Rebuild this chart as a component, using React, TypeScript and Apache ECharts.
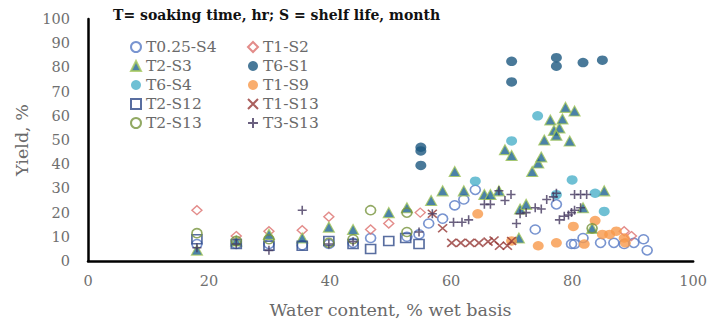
import React, { useEffect, useRef } from "react";
import * as echarts from "echarts";

const titleText = "T= soaking time, hr; S = shelf life, month";
const xAxisName = "Water content, % wet basis";
const yAxisName = "Yield, %";

const seriesNames = [
  "T0.25-S4", "T1-S2", "T2-S3", "T6-S1", "T6-S4",
  "T1-S9", "T2-S12", "T1-S13", "T2-S13", "T3-S13",
];
const legendCol1 = ["T0.25-S4", "T2-S3", "T6-S4", "T2-S12", "T2-S13"];
const legendCol2 = ["T1-S2", "T6-S1", "T1-S9", "T1-S13", "T3-S13"];

const t025s4 = [
  [18, 7], [24.5, 7], [29.9, 7], [35.4, 6.5], [39.8, 7], [43.8, 7.5], [46.7, 9.5],
  [52.7, 10], [54.7, 11], [56.3, 15.5], [58.6, 17.5], [60.6, 23], [62.1, 25.4],
  [64, 29.4], [73.9, 13], [77.4, 23.4], [79.9, 7], [80.4, 7], [81.8, 9.5],
  [84.7, 7.5], [86.9, 7.5], [88.6, 7], [90.2, 7.5], [91.8, 9], [92.4, 4.4],
];
const t1s2 = [
  [18, 21], [24.5, 10.3], [29.9, 12.3], [35.4, 12.7], [39.8, 18.3], [46.7, 13],
  [49.7, 15.5], [54.9, 20], [88.6, 12.3], [89.8, 10.3],
];
const t2s3 = [
  [18, 4.5], [24.5, 8.3], [29.9, 11], [35.4, 9.5], [39.8, 14], [43.8, 13],
  [49.7, 20], [52.7, 22], [56.7, 25], [58.6, 29], [60.6, 37], [62.1, 29],
  [65.5, 27.5], [66.5, 27.5], [67.9, 29], [68.9, 46], [70, 43.6], [71.2, 9.5],
  [71.4, 21.5], [72.4, 23.4], [73.4, 37], [74.4, 40.5], [74.9, 43], [75.4, 50],
  [76.4, 58.3], [77, 54], [77.9, 55], [77.4, 52], [78.4, 58.7], [78.9, 63.5],
  [79.6, 49.6], [80.4, 62], [81.8, 22], [83.3, 13.5], [85.3, 29],
];
const t6s1 = [
  [55, 47], [55, 45.5], [55, 39.5], [70, 82.5], [70, 74], [77.4, 84],
  [77.4, 80.5], [81.8, 82], [85, 83],
];
const t6s4 = [
  [64, 33], [70, 49.6], [74.3, 60], [77.4, 27.4], [80, 33.5], [83.8, 28], [85.3, 20.5],
];
const t1s9 = [
  [64.4, 19.5], [70, 8.3], [74.4, 6.3], [77.4, 7.5], [80.2, 14.3], [82, 7],
  [83.8, 16.7], [85, 11], [86.2, 11], [87.3, 12.3], [88.6, 9.5], [88.8, 7.5],
];
const t2s12 = [
  [18, 9], [24.5, 7], [29.9, 6.3], [35.4, 6.3], [39.8, 8.3], [43.8, 7],
  [46.7, 5], [49.7, 8.3], [52.5, 9.5], [54.7, 7],
];
const t1s13 = [
  [56.9, 19.5], [58.6, 13.5], [60.1, 7.5], [61.6, 7.5], [63.1, 7.5], [64.6, 7.5],
  [66.1, 8], [67.1, 8.5], [68, 6.3], [69.3, 6.3], [70, 8.3],
];
const t2s13 = [
  [18, 11.5], [24.5, 8.3], [29.9, 9], [39.8, 7.5], [43.8, 9], [46.7, 21],
  [52.7, 20], [52.7, 12], [83.3, 13.5],
];
const t3s13 = [
  [18, 5.5], [24.5, 7], [29.9, 4.4], [35.4, 21], [39.8, 7], [43.8, 8], [54.7, 12],
  [56.9, 19.5], [60.4, 16], [61.8, 16], [62.9, 17], [65.5, 23.4], [66.5, 23.4],
  [67.9, 29], [68.9, 25], [69.9, 27.5], [70.8, 15.5], [71.4, 19.5], [72.4, 20],
  [73.9, 22], [74.9, 21.5], [75.8, 25.4], [76.9, 26.5], [77.4, 28], [77.9, 17],
  [78.7, 18.5], [79.4, 19], [79.9, 20], [80.4, 27.5], [81.4, 27.5], [82.4, 27.5],
  [80.4, 21], [81.4, 22],
];

const seriesData = [t025s4, t1s2, t2s3, t6s1, t6s4, t1s9, t2s12, t1s13, t2s13, t3s13];

const XPATH = "path://M0,0L10,10M10,0L0,10";
const PLUSPATH = "path://M5,0L5,10M0,5L10,5";

const styles: any[] = [
  { symbol: "circle", size: [10, 9], itemStyle: { color: "rgba(255,255,255,0)", borderColor: "#5679c4", borderWidth: 1.6 } },
  { symbol: "diamond", size: [10, 9], itemStyle: { color: "rgba(255,255,255,0)", borderColor: "#dc6f6d", borderWidth: 1.4 } },
  { symbol: "triangle", size: [11, 10], itemStyle: { color: "#1e6391", borderColor: "#a5c85c", borderWidth: 1.2 } },
  { symbol: "circle", size: [11, 9.5], itemStyle: { color: "#1b5880" } },
  { symbol: "circle", size: [11, 9.5], itemStyle: { color: "#4bb0c9" } },
  { symbol: "circle", size: [11, 9.5], itemStyle: { color: "#f7984a" } },
  { symbol: "rect", size: [10, 9], itemStyle: { color: "rgba(255,255,255,0)", borderColor: "#2f4a88", borderWidth: 1.6 } },
  { symbol: XPATH, size: [9, 8], itemStyle: { color: "rgba(255,255,255,0)", borderColor: "#953735", borderWidth: 1.6 } },
  { symbol: "circle", size: [10, 9], itemStyle: { color: "rgba(255,255,255,0)", borderColor: "#77933c", borderWidth: 1.6 } },
  { symbol: PLUSPATH, size: [9, 9], itemStyle: { color: "rgba(255,255,255,0)", borderColor: "#45385f", borderWidth: 1.6 } },
];

const serifFont = "DejaVu Serif";

export default function App() {
  const ref = useRef<HTMLDivElement>(null);
  useEffect(() => {
    if (!ref.current) return;
    const chart = echarts.init(ref.current, null, { renderer: "svg" });
    const legendBase = {
      orient: "vertical",
      top: 39,
      itemWidth: 10,
      itemHeight: 10,
      itemGap: 3,
      padding: 0,
      selectedMode: false,
      textStyle: { fontFamily: serifFont, fontSize: 15.5, color: "#6a6a6a", lineHeight: 16, padding: [0, 0, 0, 0] },
    };
    chart.setOption({
      animation: false,
      backgroundColor: "#ffffff",
      title: {
        text: titleText,
        left: 113,
        top: 8,
        padding: 0,
        textStyle: { fontFamily: serifFont, fontSize: 14, fontWeight: "bold", color: "#111111" },
      },
      legend: [
        { ...legendBase, left: 130, data: legendCol1 },
        { ...legendBase, left: 247, data: legendCol2 },
      ],
      grid: { left: 88, right: 15, top: 19, bottom: 53 },
      xAxis: {
        type: "value",
        min: 0,
        max: 100,
        interval: 20,
        name: xAxisName,
        nameLocation: "middle",
        nameGap: 40,
        nameTextStyle: { fontFamily: serifFont, fontSize: 17.5, color: "#6a6a6a" },
        axisLine: { lineStyle: { color: "#000000", width: 2.5 } },
        axisTick: { show: false },
        splitLine: { show: false },
        axisLabel: { fontFamily: serifFont, fontSize: 14.5, color: "#6f6f6f", margin: 12 },
      },
      yAxis: {
        type: "value",
        min: 0,
        max: 100,
        interval: 10,
        name: yAxisName,
        nameLocation: "middle",
        nameGap: 56,
        nameTextStyle: { fontFamily: serifFont, fontSize: 17.5, color: "#6a6a6a" },
        axisLine: { show: true, lineStyle: { color: "#000000", width: 2.5 } },
        axisTick: { show: false },
        splitLine: { show: false },
        axisLabel: { fontFamily: serifFont, fontSize: 14.5, color: "#6f6f6f", margin: 18 },
      },
      series: seriesNames.map((name, i) => ({
        name,
        type: "scatter",
        data: seriesData[i],
        symbol: styles[i].symbol,
        symbolSize: styles[i].size,
        itemStyle: styles[i].itemStyle,
        emphasis: { disabled: true },
      })),
    });
    return () => chart.dispose();
  }, []);
  return (
    <div
      ref={ref}
      style={{ position: "fixed", left: 0, top: 0, width: 710, height: 324 }}
    />
  );
}
